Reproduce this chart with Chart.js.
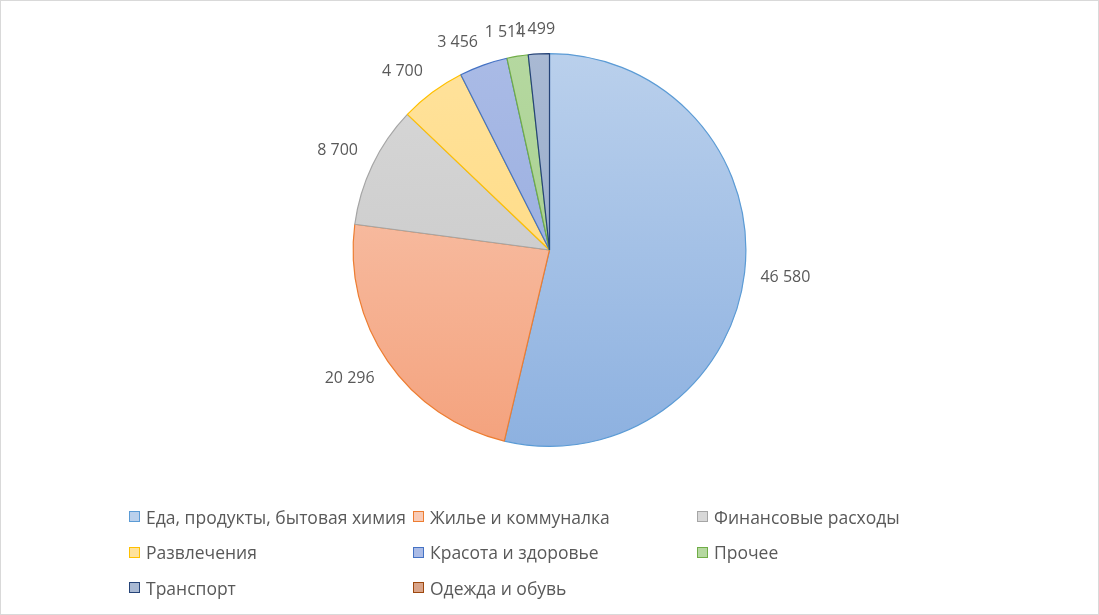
<!DOCTYPE html>
<html>
<head>
<meta charset="utf-8">
<script src="https://cdn.jsdelivr.net/npm/chart.js@4.4.0/dist/chart.umd.min.js"></script>
<style>
  html, body { margin: 0; padding: 0; background: #fff; }
  .frame {
    position: relative; width: 1097px; height: 613px;
    border: 1px solid #d9d9d9; background: #fff; overflow: hidden;
  }
  .chartBox { position: absolute; left: 0; top: 0; width: 1097px; height: 500px; }
  .legend {
    position: absolute; left: 128px; top: 498px;
    display: grid; grid-template-columns: 284px 284px 260px;
    grid-auto-rows: 35.5px;
    font-family: "Open Sans", "Noto Sans", sans-serif; font-size: 17.5px; color: #595959;
  }
  .legend span.item { display: flex; align-items: center; white-space: nowrap; }
  .legend i {
    display: inline-block; width: 11px; height: 11px; margin-right: 6px; box-sizing: border-box;
  }
</style>
</head>
<body>
<div class="frame">
  <div class="chartBox"><canvas id="pie"></canvas></div>
  <div class="legend" id="legend"></div>
</div>
<script>
// expense categories and amounts
const categories = [
  "Еда, продукты, бытовая химия",
  "Жилье и коммуналка",
  "Финансовые расходы",
  "Развлечения",
  "Красота и здоровье",
  "Прочее",
  "Транспорт",
  "Одежда и обувь"
];
const amounts = [46580, 20296, 8700, 4700, 3456, 1514, 1499, 0];
const valueLabels = ["46 580", "20 296", "8 700", "4 700", "3 456", "1 514", "1 499", ""];

// light / dark gradient stops + border colours
const lightColors = ["#bad0ec", "#f9cbb6", "#d8d8d8", "#ffe29c", "#aabbe6", "#b5d8a0", "#a9b9d3", "#d9a489"];
const darkColors  = ["#8db1e0", "#f4a27d", "#c4c4c4", "#ffd877", "#8fa6dc", "#a0cb85", "#8ea4c6", "#c07a56"];
const borderColors = ["#5b9bd5", "#ed7d31", "#a5a5a5", "#ffc000", "#4472c4", "#70ad47", "#264478", "#9e480e"];

// legend
const legendEl = document.getElementById('legend');
categories.forEach(function(name, i) {
  const item = document.createElement('span');
  item.className = 'item';
  item.innerHTML = '<i style="background:' + lightColors[i] + ';border:1px solid ' + borderColors[i] + '"></i>' + name;
  legendEl.appendChild(item);
});

function sliceGradient(ctx) {
  const chart = ctx.chart;
  const area = chart.chartArea;
  if (!area) return lightColors[ctx.dataIndex];
  const g = chart.ctx.createLinearGradient(0, area.top, 0, area.bottom);
  g.addColorStop(0, lightColors[ctx.dataIndex]);
  g.addColorStop(1, darkColors[ctx.dataIndex]);
  return g;
}

function clamp(v) { return Math.max(-1, Math.min(1, v)); }

// values written outside each slice (box pushed away from the edge like Excel does)
const outsideLabels = {
  id: 'outsideLabels',
  afterDatasetsDraw(chart) {
    const ctx = chart.ctx;
    const meta = chart.getDatasetMeta(0);
    ctx.save();
    ctx.font = '16px "Open Sans", "Noto Sans", sans-serif';
    ctx.fillStyle = '#595959';
    ctx.textAlign = 'center';
    ctx.textBaseline = 'middle';
    meta.data.forEach(function(arc, i) {
      if (!valueLabels[i]) return;
      const mid = (arc.startAngle + arc.endAngle) / 2;
      const dx = Math.cos(mid), dy = Math.sin(mid);
      const r = arc.outerRadius + 16;
      const halfW = ctx.measureText(valueLabels[i]).width / 2;
      const halfH = 8;
      const x = arc.x + dx * r + halfW * clamp(dx * 3);
      const y = arc.y + dy * r + halfH * clamp(dy * 3);
      ctx.fillText(valueLabels[i], x, y);
    });
    ctx.restore();
  }
};

const pieChart = new Chart(document.getElementById('pie').getContext('2d'), {
  type: 'pie',
  data: {
    labels: categories,
    datasets: [{
      data: amounts,
      backgroundColor: sliceGradient,
      borderColor: borderColors,
      borderWidth: 1.2,
      hoverOffset: 0
    }]
  },
  options: {
    responsive: true,
    maintainAspectRatio: false,
    animation: false,
    layout: { padding: { top: 52, bottom: 54, left: 0, right: 0 } },
    plugins: {
      legend: { display: false },
      tooltip: { enabled: false }
    }
  },
  plugins: [outsideLabels]
});
</script>
</body>
</html>
